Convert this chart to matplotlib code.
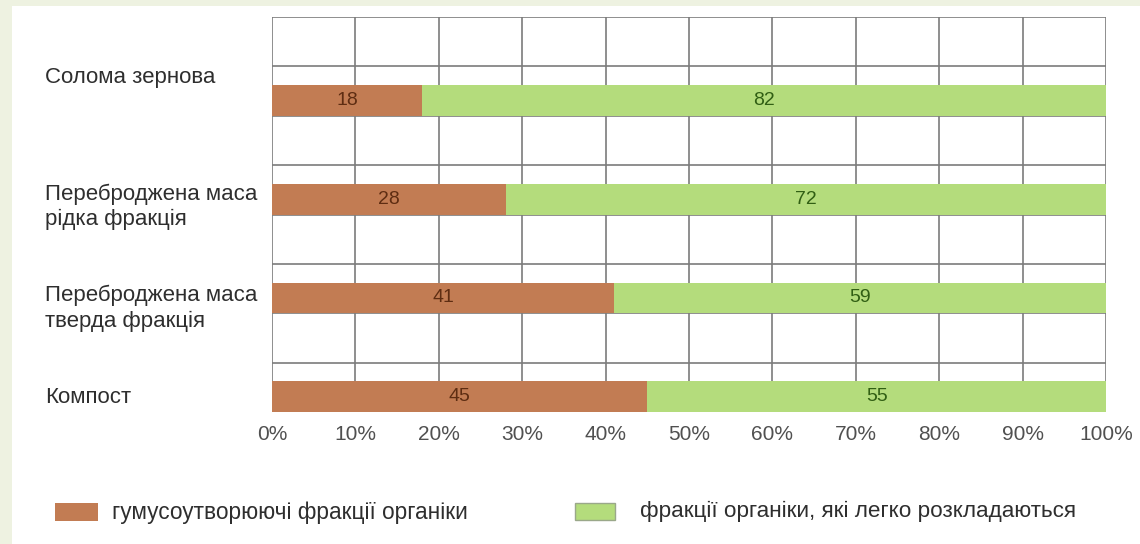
import matplotlib.pyplot as plt
from matplotlib.patches import Rectangle
from matplotlib.transforms import blended_transform_factory

plt.rcParams["font.family"] = ["Liberation Sans", "DejaVu Sans"]

# Shares of organic fractions, % (top to bottom)
categories = [
    "Солома зернова",
    "Переброджена маса\nрідка фракція",
    "Переброджена маса\nтверда фракція",
    "Компост",
]
humus = [18, 28, 41, 45]
easy = [82, 72, 59, 55]
legend_labels = [
    "гумусоутворюючі фракції органіки",
    "фракції органіки, які легко розкладаються",
]
x_ticks = [0, 10, 20, 30, 40, 50, 60, 70, 80, 90, 100]

BROWN = "#c27c53"
GREEN = "#b4dc7c"
TEXT = "#2e2e2e"

fig = plt.figure(figsize=(11.4, 5.44), dpi=100, facecolor="#eef2e1")
# white slide area
fig.patches.append(Rectangle((12 / 1140, 0), 1, 1 - 6 / 544,
                             transform=fig.transFigure,
                             facecolor="white", edgecolor="none", zorder=-5))

ax = fig.add_axes([272 / 1140, 132 / 544, 834 / 1140, 395 / 544])
ax.set_facecolor("white")

# bars sit on every second grid line, bottom one first
bottoms = [6, 4, 2, 0]
bar_h = 0.62
ax.barh(bottoms, humus, height=bar_h, align="edge", color=BROWN, zorder=3)
ax.barh(bottoms, easy, left=humus, height=bar_h, align="edge", color=GREEN, zorder=3)

for b, h, e in zip(bottoms, humus, easy):
    yc = b + bar_h / 2
    ax.text(h / 2, yc, str(h), ha="center", va="center",
            fontsize=14, color="#5e2d12", zorder=4)
    ax.text(h + e / 2, yc, str(e), ha="center", va="center",
            fontsize=14, color="#315f14", zorder=4)

ax.set_xlim(0, 100)
ax.set_ylim(0, 8)
for x in x_ticks:
    ax.axvline(x, color="#7c7c7c", lw=1.2, zorder=1)
for y in range(0, 9):
    ax.axhline(y, color="#7c7c7c", lw=1.2, zorder=1)
for s in ax.spines.values():
    s.set_visible(False)

ax.set_xticks(x_ticks)
ax.set_xticklabels([f"{v}%" for v in x_ticks], fontsize=15, color="#505050")
ax.tick_params(axis="x", length=0, pad=9)
ax.set_yticks([])

# category labels on the left
label_y = [6.78, 4.15, 2.1, 0.3]
tr = blended_transform_factory(fig.transFigure, ax.transData)
for name, y in zip(categories, label_y):
    ax.text(45 / 1140, y, name, transform=tr, ha="left", va="center",
            fontsize=16, color=TEXT, linespacing=1.25, clip_on=False)

# legend
fig.patches.append(Rectangle((55 / 1140, (544 - 521) / 544), 43 / 1140, 18 / 544,
                             transform=fig.transFigure, facecolor=BROWN,
                             edgecolor="none"))
fig.text(112 / 1140, (544 - 512) / 544, legend_labels[0], ha="left", va="center",
         fontsize=16.3, color=TEXT)
fig.patches.append(Rectangle((575 / 1140, (544 - 520) / 544), 40 / 1140, 17 / 544,
                             transform=fig.transFigure, facecolor=GREEN,
                             edgecolor="#9aa88a", lw=1))
fig.text(640 / 1140, (544 - 511) / 544, legend_labels[1], ha="left", va="center",
         fontsize=16.2, color=TEXT)

fig.savefig("out.png", dpi=100, facecolor=fig.get_facecolor())
